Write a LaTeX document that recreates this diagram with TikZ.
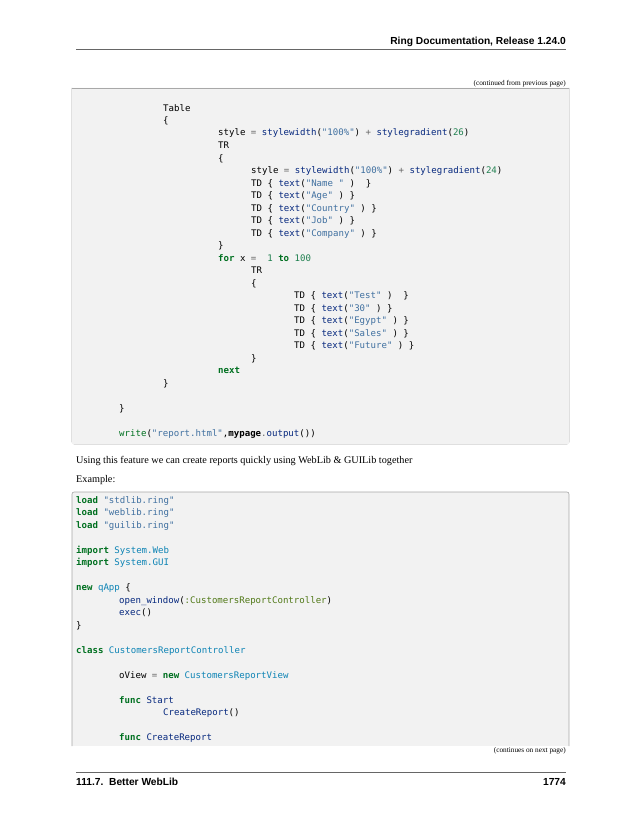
\documentclass[tikz,border=0pt]{standalone}
\usepackage{fontspec}
\setmainfont{Liberation Serif}
\newfontfamily\hdfont{Liberation Sans}
\newfontfamily\codefont{DejaVu Sans Mono}
\definecolor{kwc}{HTML}{007020}
\definecolor{stc}{HTML}{4070A0}
\definecolor{fnc}{HTML}{06287E}
\definecolor{opc}{HTML}{666666}
\definecolor{nmc}{HTML}{208050}
\definecolor{clc}{HTML}{0E84B5}
\definecolor{syc}{HTML}{517918}
\definecolor{boxfill}{HTML}{F2F2F2}
\definecolor{boxline}{HTML}{A8A8A8}
\newcommand\kw[1]{\textcolor{kwc}{\bfseries #1}}
\newcommand\kn[1]{\textcolor{kwc}{#1}}
\newcommand\st[1]{\textcolor{stc}{#1}}
\newcommand\fn[1]{\textcolor{fnc}{#1}}
\newcommand\op[1]{\textcolor{opc}{#1}}
\newcommand\nm[1]{\textcolor{nmc}{#1}}
\newcommand\cl[1]{\textcolor{clc}{#1}}
\newcommand\sy[1]{\textcolor{syc}{#1}}
\tikzset{
  code/.style={anchor=base west, inner sep=0pt, font=\codefont\fontsize{8.7}{10}\selectfont},
  body/.style={anchor=base west, inner sep=0pt, font=\fontsize{9.8}{12}\selectfont},
  hd/.style={inner sep=0pt, font=\hdfont\bfseries\fontsize{9.8}{12}\selectfont},
  small/.style={anchor=base east, inner sep=0pt, font=\fontsize{7}{9}\selectfont},
  box/.style={draw=boxline, fill=boxfill, line width=0.6pt}
}
\begin{document}
\begin{tikzpicture}[x=0.9592pt,y=-0.9592pt]
\useasboundingbox (0,0) rectangle (638,825);
% header
\node[hd, anchor=base east] (hdr) at (566,45) {Ring Documentation, Release 1.24.0};
\draw[opc, line width=0.5pt] (76,49) -- (566,49);
\node[small] (cont1) at (566,86) {(continued from previous page)};
% box 1
\draw[box, rounded corners=2pt] (72,88) -- (72,444) -- (569,444) -- (569,88);
\draw[box, draw=none] (72.3,88.3) rectangle (568.7,443.7);
\draw[boxline, line width=0.6pt] (72,88) -- (569,88);
\def\b#1{\fpeval{111+12.5*#1}}
\node[code] (a0) at (163,\b{0}) {Table};
\node[code] (a1) at (163,\b{1}) {\{};
\node[code] (a2) at (218,\b{2}) {style \op{=} \fn{stylewidth}(\st{"100\%"}) \op{+} \fn{stylegradient}(\nm{26})};
\node[code] (a3) at (218,\b{3}) {TR};
\node[code] (a4) at (218,\b{4}) {\{};
\node[code] (a5) at (251,\b{5}) {style \op{=} \fn{stylewidth}(\st{"100\%"}) \op{+} \fn{stylegradient}(\nm{24})};
\node[code] (a6) at (251,\b{6}) {TD \{ \fn{text}(\st{"Name\ "} )\ \ \}};
\node[code] (a7) at (251,\b{7}) {TD \{ \fn{text}(\st{"Age"} ) \}};
\node[code] (a8) at (251,\b{8}) {TD \{ \fn{text}(\st{"Country"} ) \}};
\node[code] (a9) at (251,\b{9}) {TD \{ \fn{text}(\st{"Job"} ) \}};
\node[code] (a10) at (251,\b{10}) {TD \{ \fn{text}(\st{"Company"} ) \}};
\node[code] (a11) at (218,\b{11}) {\}};
\node[code] (a12) at (218,\b{12}) {\kw{for} x \op{=}\ \ \nm{1} \kw{to} \nm{100}};
\node[code] (a13) at (251,\b{13}) {TR};
\node[code] (a14) at (251,\b{14}) {\{};
\node[code] (a15) at (294,\b{15}) {TD \{ \fn{text}(\st{"Test"} )\ \ \}};
\node[code] (a16) at (294,\b{16}) {TD \{ \fn{text}(\st{"30"} ) \}};
\node[code] (a17) at (294,\b{17}) {TD \{ \fn{text}(\st{"Egypt"} ) \}};
\node[code] (a18) at (294,\b{18}) {TD \{ \fn{text}(\st{"Sales"} ) \}};
\node[code] (a19) at (294,\b{19}) {TD \{ \fn{text}(\st{"Future"} ) \}};
\node[code] (a20) at (251,\b{20}) {\}};
\node[code] (a21) at (218,\b{21}) {\kw{next}};
\node[code] (a22) at (163,\b{22}) {\}};
\node[code] (a24) at (119,\b{24}) {\}};
\node[code] (a26) at (119,\b{26}) {\kn{write}(\st{"report.html"},\textbf{mypage}\op{.}\fn{output}())};
% body text
\node[body] (t1) at (76,463) {Using this feature we can create reports quickly using WebLib \& GUILib together};
\node[body] (t2) at (76,482) {Example:};
% box 2
\draw[box, draw=none] (72,492) rectangle (569,746);
\draw[boxline, line width=0.6pt, rounded corners=2pt] (72,746) -- (72,492) -- (569,492) -- (569,746);
\def\c#1{\fpeval{503+12.5*#1}}
\node[code] (b0) at (76,\c{0}) {\kw{load} \st{"stdlib.ring"}};
\node[code] (b1) at (76,\c{1}) {\kw{load} \st{"weblib.ring"}};
\node[code] (b2) at (76,\c{2}) {\kw{load} \st{"guilib.ring"}};
\node[code] (b4) at (76,\c{4}) {\kw{import} \cl{System.Web}};
\node[code] (b5) at (76,\c{5}) {\kw{import} \cl{System.GUI}};
\node[code] (b7) at (76,\c{7}) {\kw{new} \cl{qApp} \{};
\node[code] (b8) at (119,\c{8}) {\fn{open\_window}(\sy{:CustomersReportController})};
\node[code] (b9) at (119,\c{9}) {\fn{exec}()};
\node[code] (b10) at (76,\c{10}) {\}};
\node[code] (b12) at (76,\c{12}) {\kw{class} \cl{CustomersReportController}};
\node[code] (b14) at (119,\c{14}) {oView \op{=} \kw{new} \cl{CustomersReportView}};
\node[code] (b16) at (119,\c{16}) {\kw{func} \fn{Start}};
\node[code] (b17) at (163,\c{17}) {\fn{CreateReport}()};
\node[code] (b19) at (119,\c{19}) {\kw{func} \fn{CreateReport}};
\node[small] (cont2) at (566,752) {(continues on next page)};
% footer
\draw[opc, line width=0.5pt] (76,772) -- (566,772);
\node[hd, anchor=base west] (f1) at (76,785) {111.7.\ \ Better WebLib};
\node[hd, anchor=base east] (f2) at (566,785) {1774};
\end{tikzpicture}
\end{document}
